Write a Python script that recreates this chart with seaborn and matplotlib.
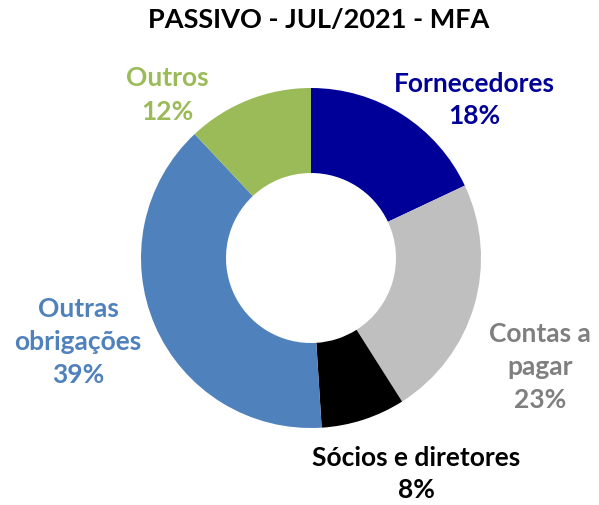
import matplotlib
matplotlib.use("Agg")
import matplotlib.pyplot as plt
import seaborn as sns

# ------------------ DATA ------------------

categories = ["Fornecedores", "Contas a\npagar", "Sócios e diretores",
              "Outras\nobrigações", "Outros"]
values = [18, 23, 8, 39, 12]
slice_colors = ["#000099", "#BFBFBF", "#000000", "#4F81BD", "#9BBB59"]
text_colors = ["#000099", "#7F7F7F", "#000000", "#4F81BD", "#9BBB59"]
title = "PASSIVO - JUL/2021 - MFA"

# label centres in pixel space (x, y from top)
label_pos = [(474, 100), (540, 367), (416, 474), (78, 342), (167, 95)]

# ------------------ STYLE ------------------

sns.set_style("white")
plt.rcParams["font.family"] = ["Lato", "DejaVu Sans"]

W, H = 599, 505
fig = plt.figure(figsize=(W / 100, H / 100), dpi=100)
ax = fig.add_axes([0, 0, 1, 1])

# ------------------ DONUT ------------------

cx, cy, r = 311, H - 258, 170
ax.pie(
    values,
    colors=slice_colors,
    startangle=90,
    counterclock=False,
    center=(cx, cy),
    radius=r,
    wedgeprops=dict(width=r * 0.5, linewidth=0),
    frame=True,
)
ax.set_xlim(0, W)
ax.set_ylim(0, H)
ax.set_aspect("equal")
ax.axis("off")

for cat, val, col, (px, py) in zip(categories, values, text_colors, label_pos):
    ax.text(px, H - py, f"{cat}\n{val}%", color=col, fontsize=19,
            fontweight="bold", ha="center", va="center", linespacing=1.45)

ax.text(319, H - 20, title, fontsize=19.5, fontweight="bold",
        ha="center", va="center", color="black")

fig.savefig("out.png", dpi=100)
